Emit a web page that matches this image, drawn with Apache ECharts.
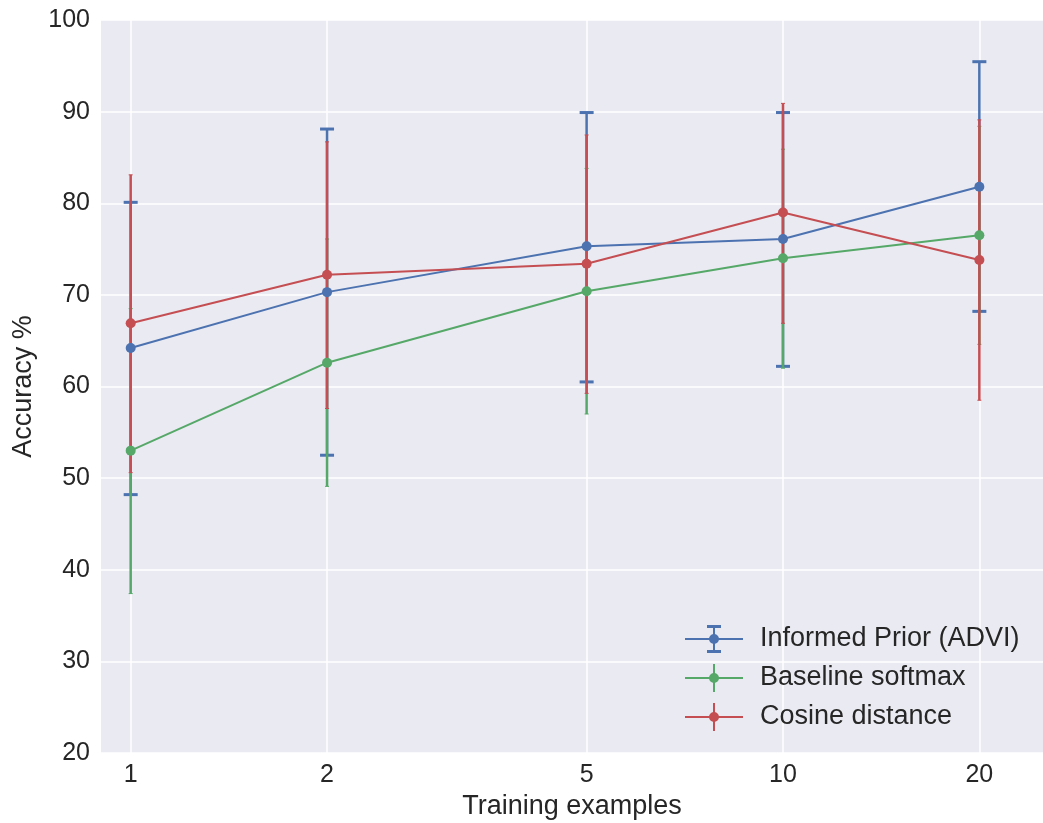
<!DOCTYPE html>
<html>
<head>
<meta charset="utf-8">
<script src="https://cdn.jsdelivr.net/npm/echarts@6/dist/echarts.min.js"></script>
<style>
  html, body { margin: 0; padding: 0; background: #fff; }
  #chart { width: 1043px; height: 823px; }
</style>
</head>
<body>
<div id="chart"></div>
<script>
// training examples (log-scaled x axis)
var xTicks = [1, 2, 5, 10, 20]
var yTicks = [20, 30, 40, 50, 60, 70, 80, 90, 100]

var priorMean = [64.2, 70.3, 75.3, 76.1, 81.8]
var priorLow = [48.2, 52.5, 60.5, 62.2, 68.2]
var priorHigh = [80.1, 88.1, 89.9, 89.9, 95.45]

var softmaxMean = [53.0, 62.6, 70.4, 74.0, 76.5]
var softmaxLow = [37.4, 49.1, 57.0, 62.0, 64.6]
var softmaxHigh = [68.5, 76.1, 83.8, 85.9, 88.4]

var cosineMean = [66.9, 72.2, 73.4, 79.0, 73.8]
var cosineLow = [50.6, 57.6, 59.25, 66.9, 58.5]
var cosineHigh = [83.1, 86.7, 87.45, 90.9, 89.1]

var names = ['Informed Prior (ADVI)', 'Baseline softmax', 'Cosine distance']
var colors = ['#4C72B0', '#55A868', '#C44E52']

var font = 'Arial, "Liberation Sans", sans-serif'
var textColor = '#262626'

function lg(v) { return Math.log10(v) }

function points(means) {
  return xTicks.map(function (x, i) { return [lg(x), means[i]] })
}

function bars(lows, highs) {
  return xTicks.map(function (x, i) { return [lg(x), lows[i], highs[i]] })
}

function errorRender(color, capHalf, capWidth) {
  return function (params, api) {
    var x = api.value(0)
    var lo = api.coord([x, api.value(1)])
    var hi = api.coord([x, api.value(2)])
    var style = { stroke: color, lineWidth: 2.5 }
    var capStyle = { stroke: color, lineWidth: capWidth }
    return {
      type: 'group',
      children: [
        { type: 'line', shape: { x1: lo[0], y1: lo[1], x2: hi[0], y2: hi[1] }, style: style },
        { type: 'line', shape: { x1: lo[0] - capHalf, y1: lo[1], x2: lo[0] + capHalf, y2: lo[1] }, style: capStyle },
        { type: 'line', shape: { x1: hi[0] - capHalf, y1: hi[1], x2: hi[0] + capHalf, y2: hi[1] }, style: capStyle }
      ]
    }
  }
}

// legend icons: line + marker + error bar
var circle = 'M24,14 A5,5 0 1,1 34,14 A5,5 0 1,1 24,14 Z '
var iconCaps = 'path://M0,13 h58 v2 h-58 Z M28,1 h2 v26 h-2 Z M22,0 h14 v3 h-14 Z M22,25 h14 v3 h-14 Z ' + circle
var iconPlain = 'path://M0,13 h58 v2 h-58 Z M28,0 h2 v28 h-2 Z ' + circle

var chart = echarts.init(document.getElementById('chart'))

var option = {
  animation: false,
  backgroundColor: '#ffffff',
  grid: {
    left: 101,
    right: 0,
    top: 20,
    bottom: 70,
    outerBoundsMode: 'none',
    show: true,
    backgroundColor: '#EAEAF2',
    borderWidth: 0
  },
  legend: {
    orient: 'vertical',
    left: 680,
    top: 620,
    itemWidth: 58,
    itemHeight: 28,
    itemGap: 11,
    textStyle: { fontFamily: font, fontSize: 27, color: textColor, padding: [0, 0, 0, 12] },
    data: [
      { name: names[0], icon: iconCaps },
      { name: names[1], icon: iconPlain },
      { name: names[2], icon: iconPlain }
    ]
  },
  xAxis: {
    type: 'value',
    min: -0.0455,
    max: 1.3986,
    name: 'Training examples',
    nameLocation: 'middle',
    nameGap: 37,
    nameTextStyle: { fontFamily: font, fontSize: 27, color: textColor },
    axisLine: { show: false },
    axisTick: { show: false, customValues: xTicks.map(lg) },
    axisLabel: {
      customValues: xTicks.map(lg),
      margin: 10,
      fontFamily: font,
      fontSize: 25,
      color: textColor,
      formatter: function (v) { return String(Math.round(Math.pow(10, v))) }
    },
    splitLine: { show: true, lineStyle: { color: '#ffffff', width: 1.5 } }
  },
  yAxis: {
    type: 'value',
    min: yTicks[0],
    max: yTicks[yTicks.length - 1],
    interval: 10,
    name: 'Accuracy %',
    nameLocation: 'middle',
    nameGap: 58,
    nameTextStyle: { fontFamily: font, fontSize: 27, color: textColor },
    axisLine: { show: false },
    axisTick: { show: false },
    axisLabel: { margin: 11, fontFamily: font, fontSize: 25, color: textColor },
    splitLine: { show: true, lineStyle: { color: '#ffffff', width: 1.5 } }
  },
  series: [
    {
      name: names[0] + ' err',
      type: 'custom',
      renderItem: errorRender(colors[0], 7, 3),
      data: bars(priorLow, priorHigh),
      encode: { x: 0, y: [1, 2] },
      z: 2
    },
    {
      name: names[1] + ' err',
      type: 'custom',
      renderItem: errorRender(colors[1], 2, 1),
      data: bars(softmaxLow, softmaxHigh),
      encode: { x: 0, y: [1, 2] },
      z: 3
    },
    {
      name: names[2] + ' err',
      type: 'custom',
      renderItem: errorRender(colors[2], 2, 1),
      data: bars(cosineLow, cosineHigh),
      encode: { x: 0, y: [1, 2] },
      z: 4
    },
    {
      name: names[0],
      type: 'line',
      data: points(priorMean),
      color: colors[0],
      symbol: 'circle',
      symbolSize: 10,
      lineStyle: { width: 2 },
      z: 5
    },
    {
      name: names[1],
      type: 'line',
      data: points(softmaxMean),
      color: colors[1],
      symbol: 'circle',
      symbolSize: 10,
      lineStyle: { width: 2 },
      z: 5
    },
    {
      name: names[2],
      type: 'line',
      data: points(cosineMean),
      color: colors[2],
      symbol: 'circle',
      symbolSize: 10,
      lineStyle: { width: 2 },
      z: 5
    }
  ]
}

chart.setOption(option)
</script>
</body>
</html>
